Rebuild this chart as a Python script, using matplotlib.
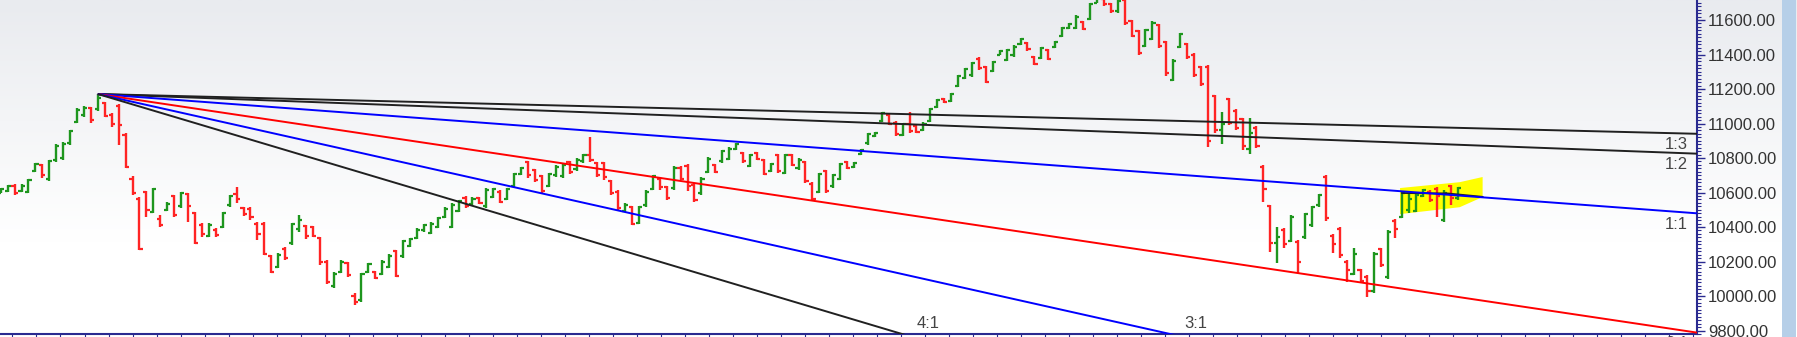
import numpy as np
import matplotlib
matplotlib.use('Agg')
import matplotlib.pyplot as plt
from matplotlib.ticker import MultipleLocator, FormatStrFormatter
from matplotlib.patches import Polygon, Rectangle

# daily bars (OHLC)
opens = [10600, 10610, 10640, 10608, 10605, 10725, 10760, 10680, 10790, 10800,
         10885, 11010, 11050, 11090, 11085, 11120, 11050, 11100, 10935, 10680,
         10565, 10605, 10490, 10445, 10500, 10580, 10520, 10590, 10480, 10410,
         10350, 10385, 10400, 10525, 10590, 10510, 10505, 10420, 10420, 10230,
         10170, 10275, 10305, 10390, 10405, 10400, 10335, 10200, 10060, 10140,
         10190, 10000, 9975, 10140, 10140, 10130, 10170, 10260, 10230, 10290,
         10335, 10380, 10365, 10400, 10460, 10400, 10495, 10570, 10535, 10570,
         10520, 10575, 10605, 10565, 10640, 10710, 10775, 10730, 10695, 10640,
         10700, 10695, 10775, 10735, 10780, 10815, 10770, 10770, 10665, 10605,
         10495, 10515, 10425, 10525, 10620, 10680, 10630, 10625, 10745, 10755,
         10645, 10595, 10720, 10760, 10780, 10795, 10850, 10830, 10755, 10830,
         10790, 10725, 10815, 10715, 10815, 10740, 10775, 10650, 10605, 10725,
         10635, 10680, 10775, 10748, 10825, 10885, 10928, 11015, 11050, 11005,
         10935, 11000, 10985, 10960, 11015, 11095, 11145, 11130, 11220, 11265,
         11280, 11375, 11325, 11305, 11400, 11370, 11395, 11460, 11468, 11385,
         11380, 11425, 11442, 11505, 11552, 11555, 11588, 11605, 11700, 11720,
         11695, 11650, 11715, 11595, 11535, 11450, 11490, 11570, 11470, 11255,
         11445, 11460, 11400, 11325, 11330, 11160, 10960, 11140, 11075, 11025,
         10850, 10975, 10750, 10520, 10310, 10385, 10320, 10315, 10340, 10410,
         10525, 10690, 10350, 10390, 10200, 10130, 10150, 10110, 10030, 10270,
         10110, 10435, 10460, 10500, 10495, 10580, 10605, 10620, 10440, 10635,
         10570]
highs = [10626, 10643, 10649, 10649, 10678, 10771, 10765, 10788, 10881, 10893,
         10962, 11090, 11101, 11096, 11171, 11125, 11061, 11113, 10945, 10696,
         10574, 10609, 10626, 10470, 10545, 10586, 10603, 10597, 10487, 10423,
         10423, 10394, 10487, 10586, 10632, 10516, 10516, 10429, 10429, 10238,
         10249, 10284, 10423, 10470, 10412, 10406, 10342, 10209, 10139, 10209,
         10197, 10017, 10133, 10191, 10145, 10209, 10244, 10267, 10325, 10336,
         10394, 10417, 10429, 10458, 10516, 10539, 10557, 10580, 10574, 10574,
         10626, 10626, 10614, 10626, 10713, 10748, 10783, 10736, 10701, 10713,
         10759, 10771, 10783, 10800, 10823, 10922, 10777, 10777, 10672, 10614,
         10539, 10522, 10522, 10614, 10701, 10690, 10638, 10754, 10754, 10765,
         10655, 10690, 10806, 10765, 10846, 10864, 10887, 10835, 10823, 10835,
         10794, 10771, 10823, 10823, 10823, 10800, 10783, 10661, 10713, 10730,
         10707, 10771, 10783, 10777, 10852, 10945, 10951, 11067, 11055, 11014,
         11003, 11067, 10991, 11009, 11090, 11142, 11148, 11177, 11281, 11322,
         11357, 11386, 11333, 11362, 11426, 11432, 11455, 11496, 11473, 11391,
         11444, 11432, 11478, 11559, 11583, 11629, 11594, 11699, 11740, 11730,
         11699, 11725, 11725, 11600, 11542, 11548, 11594, 11577, 11478, 11374,
         11525, 11467, 11409, 11333, 11339, 11165, 11067, 11148, 11084, 11032,
         11032, 10986, 10759, 10528, 10400, 10394, 10470, 10325, 10481, 10522,
         10591, 10701, 10359, 10400, 10209, 10278, 10157, 10122, 10255, 10278,
         10383, 10446, 10603, 10597, 10597, 10620, 10614, 10632, 10614, 10643,
         10632]
lows = [10597, 10603, 10586, 10603, 10597, 10719, 10684, 10667, 10777, 10788,
        10875, 11003, 11038, 11003, 11073, 11038, 10980, 10875, 10742, 10586,
        10267, 10458, 10481, 10400, 10493, 10458, 10510, 10429, 10301, 10342,
        10342, 10342, 10394, 10516, 10539, 10464, 10441, 10325, 10238, 10133,
        10162, 10209, 10296, 10371, 10330, 10342, 10180, 10070, 10046, 10133,
        10110, 9948, 9965, 10133, 10099, 10122, 10162, 10110, 10220, 10284,
        10330, 10371, 10359, 10394, 10452, 10394, 10487, 10510, 10528, 10533,
        10510, 10568, 10539, 10557, 10632, 10701, 10684, 10661, 10597, 10632,
        10690, 10684, 10707, 10725, 10771, 10777, 10690, 10672, 10586, 10499,
        10487, 10412, 10417, 10516, 10614, 10614, 10557, 10614, 10672, 10609,
        10545, 10586, 10713, 10713, 10771, 10788, 10846, 10771, 10748, 10788,
        10701, 10719, 10713, 10707, 10754, 10730, 10655, 10557, 10597, 10597,
        10626, 10672, 10736, 10742, 10817, 10875, 10922, 11009, 10991, 10928,
        10928, 10945, 10945, 10957, 11009, 11090, 11119, 11125, 11212, 11258,
        11270, 11310, 11235, 11299, 11397, 11362, 11386, 11455, 11420, 11339,
        11374, 11368, 11438, 11501, 11548, 11548, 11542, 11600, 11699, 11681,
        11641, 11641, 11571, 11501, 11397, 11444, 11484, 11438, 11275, 11246,
        11438, 11374, 11270, 11217, 10864, 10945, 10881, 10991, 10962, 10846,
        10823, 10858, 10545, 10255, 10191, 10278, 10313, 10133, 10330, 10400,
        10516, 10435, 10249, 10220, 10081, 10122, 10075, 9994, 10017, 10168,
        10099, 10336, 10452, 10481, 10487, 10574, 10545, 10458, 10429, 10528,
        10557]
closes = [10620, 10635, 10600, 10640, 10670, 10765, 10700, 10782, 10870, 10880,
          10955, 11080, 11090, 11020, 11150, 11045, 11000, 10990, 10750, 10600,
          10275, 10500, 10620, 10410, 10535, 10470, 10595, 10520, 10310, 10360,
          10410, 10355, 10480, 10580, 10560, 10475, 10460, 10360, 10245, 10140,
          10240, 10220, 10415, 10440, 10350, 10350, 10200, 10080, 10130, 10195,
          10120, 9965, 10125, 10185, 10105, 10200, 10235, 10115, 10320, 10330,
          10385, 10410, 10420, 10450, 10505, 10530, 10550, 10520, 10565, 10540,
          10615, 10620, 10545, 10620, 10705, 10740, 10700, 10670, 10610, 10705,
          10750, 10760, 10720, 10790, 10815, 10790, 10700, 10690, 10600, 10510,
          10530, 10420, 10515, 10605, 10695, 10630, 10570, 10745, 10680, 10640,
          10555, 10680, 10795, 10720, 10840, 10855, 10880, 10780, 10815, 10795,
          10710, 10765, 10725, 10815, 10760, 10790, 10665, 10565, 10705, 10610,
          10700, 10765, 10745, 10770, 10848, 10940, 10946, 11060, 11000, 10940,
          10995, 10955, 10950, 11000, 11085, 11135, 11125, 11170, 11275, 11315,
          11350, 11320, 11240, 11355, 11420, 11425, 11445, 11490, 11430, 11345,
          11435, 11375, 11472, 11552, 11578, 11620, 11548, 11690, 11730, 11690,
          11650, 11710, 11580, 11510, 11410, 11540, 11585, 11450, 11290, 11360,
          11520, 11385, 11280, 11230, 10900, 10960, 11000, 11005, 10975, 10870,
          10945, 10870, 10620, 10310, 10340, 10300, 10460, 10200, 10475, 10515,
          10585, 10450, 10300, 10240, 10150, 10245, 10090, 10030, 10245, 10180,
          10370, 10390, 10595, 10560, 10585, 10612, 10555, 10580, 10600, 10570,
          10625]

# Gann fan from the swing high (bar 14)
fan_origin = 14
fan_unit = 3.0            # points per bar for the 1x1 line
fan_names = ['1:3', '1:2', '1:1', '2:1', '3:1', '4:1']
fan_mult = [1/3, 1/2, 1, 2, 3, 4]
fan_colors = ['#202020', '#202020', '#0000ff', '#ff0000', '#0000ff', '#202020']

# highlighted consolidation box + short trend line inside it
box_x = [201.7, 210.3, 213.6, 213.6, 210.3, 201.7]
box_y = [10626, 10660, 10690, 10574, 10515, 10475]
trend_x = [202, 208.5, 213.6]
trend_y = [10597, 10595, 10575]

W, H = 1797, 337
fig = plt.figure(figsize=(W / 100, H / 100), dpi=100)

# background gradient
bg = fig.add_axes([0, 0, 1, 1])
grad = np.linspace(0, 1, 256).reshape(-1, 1)
top = np.array([233, 235, 239]) / 255
bot = np.array([255, 255, 255]) / 255
img = top + (bot - top) * np.clip(grad * 1.4, 0, 1)[:, :, None]
bg.imshow(np.repeat(img, 2, axis=1), aspect='auto', extent=[0, 1, 0, 1], origin='upper')
bg.set_axis_off()
fig.patches.append(Rectangle((1782 / W, 0), 14 / W, 1, transform=fig.transFigure,
                             facecolor='#b6cfe8', edgecolor='none', zorder=0))

ax = fig.add_axes([0, 3 / H, 1697 / W, 334 / H])
ax.patch.set_alpha(0)
xmax = 244.5
ax.set_xlim(-0.1, xmax)
ax.set_ylim(9780, 11716)

o = np.array(opens); h = np.array(highs); l = np.array(lows); c = np.array(closes)
idx = np.arange(len(c))
cols = np.where(c >= o, '#1e961e', '#ff2424')

ax.add_patch(Polygon(list(zip(box_x, box_y)), closed=True, facecolor='#ffff00',
                     edgecolor='none', zorder=1))

ax.vlines(idx, l, h, colors=cols, lw=1.7, zorder=2)
ax.hlines(o, idx - 0.45, idx, colors=cols, lw=1.6, zorder=2)
ax.hlines(c, idx, idx + 0.45, colors=cols, lw=1.6, zorder=2)

ax.plot(trend_x, trend_y, color='#202020', lw=1.3, zorder=3)

p0 = highs[fan_origin]
xs = np.array([fan_origin, xmax])
ybot = ax.get_ylim()[0]
for name, m, col in zip(fan_names, fan_mult, fan_colors):
    ys = p0 - m * fan_unit * (xs - fan_origin)
    ax.plot(xs, ys, color=col, lw=1.4, zorder=3, solid_capstyle='butt')
    if ys[1] > ybot:
        ax.annotate(name, (xmax, ys[1]), xytext=(-9, -11), textcoords='offset pixels',
                    ha='right', va='center', fontsize=12, color='#444444',
                    family='Liberation Sans')
    else:
        xhit = fan_origin + (p0 - ybot) / (m * fan_unit)
        ax.annotate(name, (xhit, ybot), xytext=(26, 10), textcoords='offset pixels',
                    ha='center', va='center', fontsize=12, color='#444444',
                    family='Liberation Sans')

# axes styling
for s in ['top', 'left']:
    ax.spines[s].set_visible(False)
for s in ['right', 'bottom']:
    ax.spines[s].set_color('#2a2a90')
    ax.spines[s].set_linewidth(1.5)

ax.yaxis.tick_right()
ax.yaxis.set_major_locator(MultipleLocator(200))
ax.yaxis.set_minor_locator(MultipleLocator(20))
ax.yaxis.set_major_formatter(FormatStrFormatter('%.2f'))
ax.tick_params(axis='y', which='major', length=6, width=1, color='#2a2a90', pad=2,
               labelsize=12, labelcolor='#333333')
ax.tick_params(axis='y', which='minor', length=3, width=0.8, color='#2a2a90')
for t in ax.get_yticklabels():
    t.set_family('Liberation Sans')

ax.set_xticks(np.arange(1.7, xmax, 3.46))
ax.tick_params(axis='x', length=3, width=0.8, color='#2a2a90', labelbottom=False)

fig.savefig('out.png', dpi=100)
